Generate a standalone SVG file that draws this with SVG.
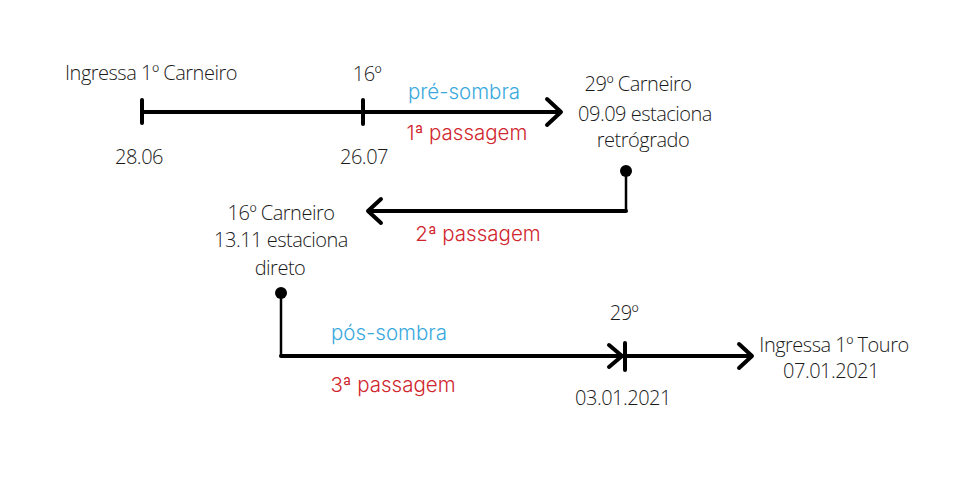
<svg xmlns="http://www.w3.org/2000/svg" width="980" height="483" viewBox="0 0 980 483">
<style>
.t{font-family:"Open Sans","DejaVu Sans",sans-serif;font-size:20px;font-weight:300;fill:#1a1a1a;text-anchor:middle;letter-spacing:-0.5px}
.r{font-family:"Inter","Lato",sans-serif;font-size:20.5px;font-weight:300;fill:#d0262e;text-anchor:middle}
.b{font-family:"Inter","Lato",sans-serif;font-size:20.5px;font-weight:300;fill:#3aa9de;text-anchor:middle}
.ln{stroke:#000;stroke-width:4;fill:none;stroke-linecap:round;stroke-linejoin:round}
.thin{stroke:#000;stroke-width:2.5;fill:none}
</style>
<rect width="980" height="483" fill="#fff"/>
<g id="connectors">
<path class="ln" d="M142,112 H560"/>
<path class="ln" d="M142,100 V123"/>
<path class="ln" d="M363,100 V124"/>
<path class="ln" d="M547,99 L561,112 L547,125"/>
<path class="thin" d="M626,171 V212"/>
<path class="ln" d="M626,211 H369"/>
<path class="ln" d="M381,199 L368,211 L381,223"/>
<circle cx="626" cy="171" r="6" fill="#000"/>
<path class="thin" d="M281,293 V357"/>
<path class="ln" d="M281,356 H751"/>
<path class="ln" d="M609,345 L622,356 L609,367"/>
<path class="ln" d="M625,343 V370"/>
<path class="ln" d="M739,344 L752,356 L739,368"/>
<circle cx="281" cy="293" r="6" fill="#000"/>
</g>
<g id="n-ingressa-carneiro"><text class="t" x="151" y="80">Ingressa 1º Carneiro</text></g>
<g id="n-16"><text class="t" x="367" y="81">16º</text></g>
<g id="n-pre-sombra"><text class="b" x="464" y="99">pré-sombra</text></g>
<g id="n-1a"><text class="r" x="467" y="140">1ª passagem</text></g>
<g id="n-2806"><text class="t" x="139" y="164">28.06</text></g>
<g id="n-2607"><text class="t" x="364" y="164">26.07</text></g>
<g id="n-29-carneiro">
<text class="t" x="638" y="91">29º Carneiro</text>
<text class="t" x="645" y="121">09.09 estaciona</text>
<text class="t" x="643" y="147">retrógrado</text>
</g>
<g id="n-16-carneiro">
<text class="t" x="281" y="220">16º Carneiro</text>
<text class="t" x="281" y="247">13.11 estaciona</text>
<text class="t" x="280" y="275">direto</text>
</g>
<g id="n-2a"><text class="r" x="478" y="241">2ª passagem</text></g>
<g id="n-pos-sombra"><text class="b" x="389" y="340">pós-sombra</text></g>
<g id="n-29"><text class="t" x="624" y="320">29º</text></g>
<g id="n-3a"><text class="r" x="393" y="392">3ª passagem</text></g>
<g id="n-0301"><text class="t" x="623" y="405">03.01.2021</text></g>
<g id="n-touro">
<text class="t" x="834" y="352">Ingressa 1º Touro</text>
<text class="t" x="831" y="378">07.01.2021</text>
</g>
</svg>
